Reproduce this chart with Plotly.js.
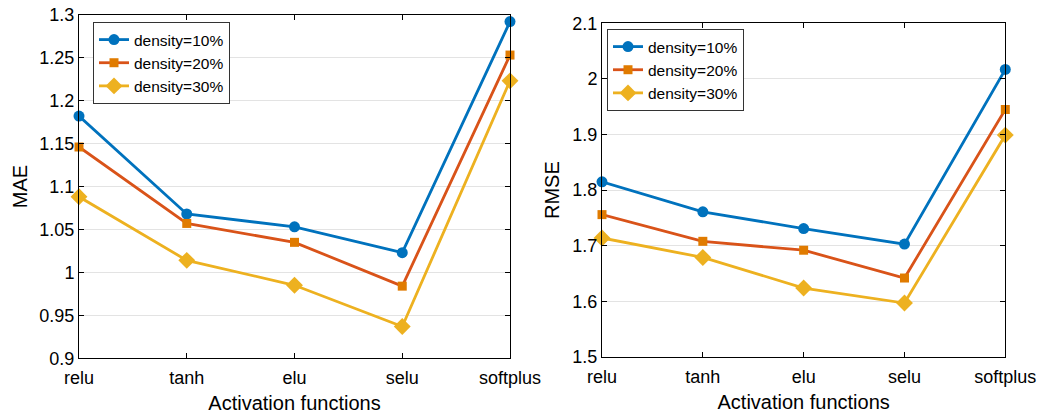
<!DOCTYPE html>
<html>
<head>
<meta charset="utf-8">
<script src="https://cdn.plot.ly/plotly-3.0.1.min.js"></script>
<style>html,body{margin:0;padding:0;background:#fff;}#chart{width:1039px;height:418px;}</style>
</head>
<body>
<div id="chart"></div>
<script>
const categories = ['relu', 'tanh', 'elu', 'selu', 'softplus'];
const seriesNames = ['density=10%', 'density=20%', 'density=30%'];
const mae10 = [1.182, 1.068, 1.053, 1.023, 1.292];
const mae20 = [1.146, 1.057, 1.035, 0.984, 1.253];
const mae30 = [1.088, 1.014, 0.985, 0.937, 1.223];
const rmse10 = [1.815, 1.761, 1.731, 1.703, 2.017];
const rmse20 = [1.756, 1.708, 1.692, 1.642, 1.945];
const rmse30 = [1.714, 1.679, 1.624, 1.597, 1.899];
const maeTicks = [0.9, 0.95, 1, 1.05, 1.1, 1.15, 1.2, 1.25, 1.3];
const maeTickText = ['0.9', '0.95', '1', '1.05', '1.1', '1.15', '1.2', '1.25', '1.3'];
const rmseTicks = [1.5, 1.6, 1.7, 1.8, 1.9, 2.0, 2.1];
const rmseTickText = ['1.5', '1.6', '1.7', '1.8', '1.9', '2', '2.1'];

const lineColors = ['#0072BD', '#D95319', '#EDB120'];
const markerColors = ['#0072BD', '#E07B00', '#EDB120'];
const symbols = ['circle', 'square', 'diamond'];
const sizes = [11, 9, 13];
const font = 'Liberation Sans, Arial, Helvetica, sans-serif';

function mk(y, i, xa, ya, leg) {
  return {
    x: categories, y: y, type: 'scatter', mode: 'lines+markers',
    name: seriesNames[i], xaxis: xa, yaxis: ya, legend: leg,
    line: {color: lineColors[i], width: 2.8},
    marker: {symbol: symbols[i], size: sizes[i], color: markerColors[i]},
    cliponaxis: false
  };
}

const data = [
  mk(mae10, 0, 'x', 'y', 'legend'),
  mk(mae20, 1, 'x', 'y', 'legend'),
  mk(mae30, 2, 'x', 'y', 'legend'),
  mk(rmse10, 0, 'x2', 'y2', 'legend2'),
  mk(rmse20, 1, 'x2', 'y2', 'legend2'),
  mk(rmse30, 2, 'x2', 'y2', 'legend2')
];

const xbase = {
  type: 'category', range: [0, 4], showline: true, linecolor: '#000', linewidth: 1,
  mirror: 'ticks', ticks: 'inside', ticklen: 5, tickcolor: '#000', showgrid: false,
  zeroline: false, tickfont: {size: 18, color: '#000', family: font}, ticklabelstandoff: 3,
  title: {text: 'Activation functions', font: {size: 20, color: '#000', family: font}, standoff: 9}
};
const ybase = {
  showline: true, linecolor: '#000', linewidth: 1, mirror: 'ticks', ticks: 'inside',
  ticklen: 5, tickcolor: '#000', showgrid: true, gridcolor: '#e3e3e3', gridwidth: 1,
  zeroline: false, tickfont: {size: 18, color: '#000', family: font}
};

const layout = {
  width: 1039, height: 418,
  margin: {l: 0, r: 0, t: 0, b: 0},
  paper_bgcolor: '#fff', plot_bgcolor: '#fff',
  font: {family: font, color: '#000'},
  xaxis: Object.assign({}, xbase, {domain: [79/1039, 510/1039], anchor: 'y'}),
  yaxis: Object.assign({}, ybase, {domain: [(418-358.3)/418, (418-14.7)/418], anchor: 'x',
    range: [0.9, 1.3], tickvals: maeTicks, ticktext: maeTickText,
    title: {text: 'MAE', font: {size: 20, color: '#000', family: font}, standoff: 6}}),
  xaxis2: Object.assign({}, xbase, {domain: [602/1039, 1005.3/1039], anchor: 'y2'}),
  yaxis2: Object.assign({}, ybase, {domain: [(418-357)/418, (418-23.3)/418], anchor: 'x2',
    range: [1.5, 2.1], tickvals: rmseTicks, ticktext: rmseTickText,
    title: {text: 'RMSE', font: {size: 20, color: '#000', family: font}, standoff: 7}}),
  legend: {x: 93/1039, y: (418-22)/418, xanchor: 'left', yanchor: 'top', xref: 'paper', yref: 'paper',
    bgcolor: '#fff', bordercolor: '#333', borderwidth: 1, font: {size: 15.5, color: '#000', family: font},
    tracegroupgap: 0, itemwidth: 30},
  legend2: {x: 607/1039, y: (418-29)/418, xanchor: 'left', yanchor: 'top', xref: 'paper', yref: 'paper',
    bgcolor: '#fff', bordercolor: '#333', borderwidth: 1, font: {size: 15.5, color: '#000', family: font},
    tracegroupgap: 0, itemwidth: 30},
  showlegend: true
};

Plotly.newPlot('chart', data, layout, {displayModeBar: false, staticPlot: true});
</script>
</body>
</html>
